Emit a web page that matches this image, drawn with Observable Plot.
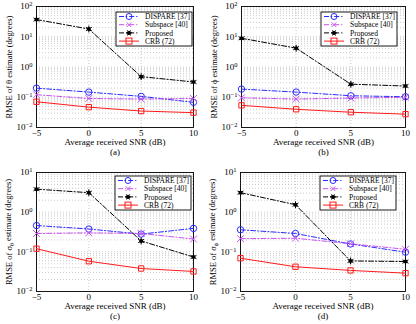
<!DOCTYPE html>
<html>
<head>
<meta charset="utf-8">
<script src="https://cdn.jsdelivr.net/npm/d3@7"></script>
<script src="https://cdn.jsdelivr.net/npm/@observablehq/plot@0.6"></script>
<style>
  html, body { margin: 0; padding: 0; background: #fff; }
  #wrap { position: relative; width: 416px; height: 324px; overflow: hidden; }
  .panel { position: absolute; width: 208px; height: 162px; }
  svg { font-family: "Liberation Serif", "Times New Roman", serif; }
</style>
</head>
<body>
<div id="wrap"></div>
<script>
// ---- data ----
const snr = [-5, 0, 5, 10];
const seriesNames = ["DISPARE [37]", "Subspace [40]", "Proposed", "CRB (72)"];
const seriesColors = ["#2b2bff", "#c653f0", "#000000", "#ff1a1a"];
const xTicks = [-5, 0, 5, 10];

const aDispare  = [0.20, 0.148, 0.107, 0.068];
const aSubspace = [0.121, 0.091, 0.087, 0.091];
const aProposed = [37, 18, 0.48, 0.32];
const aCrb      = [0.071, 0.047, 0.035, 0.031];

const bDispare  = [0.186, 0.148, 0.112, 0.104];
const bSubspace = [0.096, 0.087, 0.094, 0.10];
const bProposed = [8.9, 4.2, 0.27, 0.235];
const bCrb      = [0.054, 0.040, 0.032, 0.0276];

const cDispare  = [0.46, 0.376, 0.28, 0.39];
const cSubspace = [0.29, 0.30, 0.29, 0.21];
const cProposed = [3.8, 3.1, 0.188, 0.074];
const cCrb      = [0.12, 0.058, 0.038, 0.032];

const dDispare  = [0.36, 0.29, 0.158, 0.098];
const dSubspace = [0.215, 0.22, 0.16, 0.116];
const dProposed = [3.1, 1.54, 0.059, 0.057];
const dCrb      = [0.069, 0.042, 0.034, 0.029];

const yLabels = [
  "RMSE of θ estimate (degrees)",
  "RMSE of ϕ estimate (degrees)",
  "RMSE of σ_θ estimate (degrees)",
  "RMSE of σ_ϕ estimate (degrees)"
];
const xLabel = "Average received SNR (dB)";
const captions = ["(a)", "(b)", "(c)", "(d)"];

const panels = [
  {vals: [aDispare, aSubspace, aProposed, aCrb], yExp: [-2, 2], left: 0,   top: 0,   m: {l: 36, r: 15, t: 6,  b: 35}, leg: {x: 116, y: 12}},
  {vals: [bDispare, bSubspace, bProposed, bCrb], yExp: [-2, 2], left: 208, top: 0,   m: {l: 33, r: 11, t: 6,  b: 35}, leg: {x: 113, y: 12}},
  {vals: [cDispare, cSubspace, cProposed, cCrb], yExp: [-2, 1], left: 0,   top: 162, m: {l: 36, r: 15, t: 10, b: 33}, leg: {x: 115, y: 14}},
  {vals: [dDispare, dSubspace, dProposed, dCrb], yExp: [-2, 1], left: 208, top: 162, m: {l: 32, r: 11, t: 10, b: 33}, leg: {x: 112, y: 14}}
];

const dashDot = "5,2,1.2,2";
const dashes = [dashDot, dashDot, dashDot, null];
const symbols = ["circle", "times", "asterisk", "square"];

function richText(el, str) {
  const sel = d3.select(el);
  let m = str.match(/^10\^\{(.+)\}$/);
  if (m) {
    sel.text("10");
    sel.append("tspan").attr("dy", "-0.45em").attr("font-size", "0.72em").text(m[1]);
    return;
  }
  m = str.match(/^(.*?)(.)_(.)(.*)$/);
  if (m) {
    sel.text(m[1] + m[2]);
    sel.append("tspan").attr("dy", "0.35em").attr("font-size", "0.72em").text(m[3]);
    sel.append("tspan").attr("dy", "-0.35em").text(m[4]);
  }
}

const wrap = document.getElementById("wrap");

panels.forEach((p, i) => {
  const rows = [];
  p.vals.forEach((arr, s) => arr.forEach((v, k) => rows.push({snr: snr[k], v, s: seriesNames[s], si: s})));

  const majors = d3.range(p.yExp[0], p.yExp[1] + 1).map(e => Math.pow(10, e));
  const minors = [];
  for (let e = p.yExp[0]; e < p.yExp[1]; e++) for (let k = 2; k <= 9; k++) minors.push(k * Math.pow(10, e));
  const superscript = d => "10^{" + String(Math.round(Math.log10(d))).replace("-", "−") + "}";

  const marks = [
    Plot.ruleY(minors.concat(majors), {stroke: "#a8a8a8", strokeWidth: 0.6, strokeDasharray: "1,2"}),
    Plot.ruleX(xTicks, {stroke: "#a8a8a8", strokeWidth: 0.6, strokeDasharray: "1,2"}),
    Plot.frame({stroke: "#000", strokeWidth: 0.9}),
    Plot.axisX({ticks: xTicks, tickSize: 0, tickPadding: 2, fontSize: 9, label: null, tickFormat: d => d < 0 ? "−" + Math.abs(d) : String(d)}),
    Plot.axisY({ticks: majors, tickSize: 0, tickPadding: 4, fontSize: 9, label: null, tickFormat: superscript}),
    Plot.text([xLabel], {frameAnchor: "bottom", dy: 17, fontSize: 9, fill: "#000", textAnchor: "middle"}),
    Plot.text([captions[i]], {frameAnchor: "bottom", dy: 27, fontSize: 9, fill: "#000", textAnchor: "middle"}),
    Plot.text([yLabels[i]], {frameAnchor: "left", dx: -27, rotate: -90, fontSize: 8.5, fill: "#000", textAnchor: "middle"})
  ];
  seriesNames.forEach((name, s) => {
    const data = rows.filter(r => r.si === s);
    marks.push(Plot.line(data, {x: "snr", y: "v", stroke: seriesColors[s], strokeWidth: 1, strokeDasharray: dashes[s]}));
    if (symbols[s] === "asterisk") {
      marks.push(Plot.dot(data, {x: "snr", y: "v", r: 2, fill: "#000", stroke: "none"}));
      marks.push(Plot.dot(data, {x: "snr", y: "v", r: 3.2, symbol: "asterisk", stroke: "#000", strokeWidth: 1}));
    } else {
      marks.push(Plot.dot(data, {x: "snr", y: "v", r: symbols[s] === "square" ? 3 : 3.2, symbol: symbols[s], stroke: seriesColors[s], fill: "none", strokeWidth: 1}));
    }
  });

  const chart = Plot.plot({
    width: 208, height: 162,
    marginLeft: p.m.l, marginRight: p.m.r, marginTop: p.m.t, marginBottom: p.m.b,
    style: {fontFamily: "Liberation Serif, serif", background: "#fff", color: "#000", overflow: "visible"},
    x: {domain: [-5, 10]},
    y: {type: "log", domain: [majors[0], majors[majors.length - 1]]},
    marks
  });

  d3.select(chart).selectAll("text").each(function () {
    const t = this.textContent;
    if (/^10\^\{/.test(t) || /_/.test(t)) richText(this, t);
  });

  // legend
  const svg = d3.select(chart);
  const lg = svg.append("g").attr("transform", `translate(${p.leg.x},${p.leg.y})`);
  lg.append("rect").attr("width", 76).attr("height", 34).attr("fill", "#fff").attr("stroke", "#000").attr("stroke-width", 0.9);
  seriesNames.forEach((name, s) => {
    const y = 4.5 + s * 8.2;
    lg.append("line").attr("x1", 3).attr("x2", 23).attr("y1", y).attr("y2", y)
      .attr("stroke", seriesColors[s]).attr("stroke-width", 1).attr("stroke-dasharray", dashes[s] || null);
    const cx = 13;
    const col = seriesColors[s];
    if (symbols[s] === "circle") lg.append("circle").attr("cx", cx).attr("cy", y).attr("r", 3).attr("fill", "none").attr("stroke", col);
    else if (symbols[s] === "times") lg.append("path").attr("d", `M${cx-2.3},${y-2.3}L${cx+2.3},${y+2.3}M${cx-2.3},${y+2.3}L${cx+2.3},${y-2.3}`).attr("stroke", col).attr("stroke-width", 1);
    else if (symbols[s] === "square") lg.append("rect").attr("x", cx - 3).attr("y", y - 3).attr("width", 6).attr("height", 6).attr("fill", "none").attr("stroke", col);
    else {
      lg.append("circle").attr("cx", cx).attr("cy", y).attr("r", 2).attr("fill", "#000");
      lg.append("path").attr("d", `M${cx-3},${y}L${cx+3},${y}M${cx-1.5},${y-2.6}L${cx+1.5},${y+2.6}M${cx-1.5},${y+2.6}L${cx+1.5},${y-2.6}`).attr("stroke", "#000").attr("stroke-width", 1);
    }
    lg.append("text").attr("x", 29).attr("y", y).attr("dy", "0.35em").attr("font-size", 7.5)
      .attr("text-anchor", "start").attr("fill", "#000").text(name);
  });

  const div = document.createElement("div");
  div.className = "panel";
  div.style.left = p.left + "px";
  div.style.top = p.top + "px";
  div.appendChild(chart);
  wrap.appendChild(div);
});
</script>
</body>
</html>
